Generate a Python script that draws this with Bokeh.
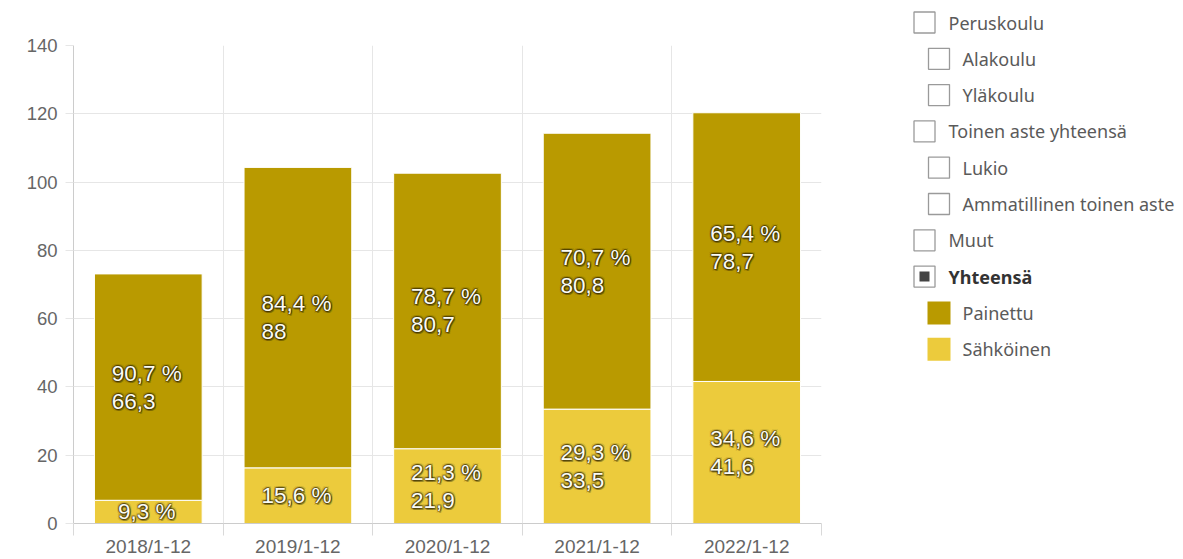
from bokeh.plotting import figure
from bokeh.layouts import row
from bokeh.models import Range1d, FixedTicker, ColumnDataSource
from bokeh.core.properties import value
from bokeh.embed import file_html
from bokeh.resources import INLINE

# ---- data ----
categories = ["2018/1-12", "2019/1-12", "2020/1-12", "2021/1-12", "2022/1-12"]
painettu = [66.3, 88.0, 80.7, 80.8, 78.7]
sahkoinen = [6.8, 16.3, 21.9, 33.5, 41.6]
series_keys = ["sahkoinen", "painettu"]          # stacking order (bottom first)
series_names = ["Sähköinen", "Painettu"]
series_colors = ["#ECCB3C", "#B99A00"]
y_ticks = [0, 20, 40, 60, 80, 100, 120, 140]
legend_labels = ["Peruskoulu", "Alakoulu", "Yläkoulu", "Toinen aste yhteensä", "Lukio",
                 "Ammatillinen toinen aste", "Muut", "Yhteensä", "Painettu", "Sähköinen"]
legend_levels = [0, 1, 1, 0, 1, 1, 0, 0, 1, 1]
legend_checked = ["Yhteensä"]

# ---- layout constants ----
H = 559
W1 = 888
W2 = 1183 - W1
LABEL_FS = 22.5

n = len(categories)
x_centers = [i + 0.5 for i in range(n)]

p = figure(width=W1, height=H, x_range=Range1d(0, n), y_range=Range1d(0, 140),
           output_backend="svg", toolbar_location=None,
           min_border_left=73, min_border_right=67, min_border_top=45, min_border_bottom=34)
p.outline_line_color = None
p.background_fill_color = "white"
p.frame_align = False

src = ColumnDataSource(dict(x=x_centers, painettu=painettu, sahkoinen=sahkoinen))
p.vbar_stack(series_keys, x="x", width=0.72, color=series_colors, line_color="white",
             line_width=1, source=src)

# ---- data labels ----
def fmt(v):
    return f"{v:g}".replace(".", ",")

char_w = {",": 0.278, " ": 0.278, "%": 0.889}
def text_width(s, fs):
    return sum(char_w.get(c, 0.556) for c in s) * fs

lx, ly, lt, lxo, lyo = [], [], [], [], []
series_vals = {"painettu": painettu, "sahkoinen": sahkoinen}
for i in range(n):
    total = painettu[i] + sahkoinen[i]
    bottom = 0.0
    for key in series_keys:
        v = series_vals[key][i]
        pct = v / total * 100
        pct_s = f"{pct:.1f}".replace(".", ",") + " %"
        mid = bottom + v / 2
        w = text_width(pct_s, LABEL_FS)
        if v >= 20:
            lines = [(pct_s, -14), (fmt(v), 14)]
        else:
            lines = [(pct_s, 0)]
        for t, yo in lines:
            lx.append(x_centers[i]); ly.append(mid); lt.append(t)
            lxo.append(-w / 2 - 1.5); lyo.append(yo)
        bottom += v

# soft dark outline (two rings) behind the white labels
rings = [
    ([(-2, -2), (0, -2), (2, -2), (-2, 0), (2, 0), (-2, 2), (0, 2), (2, 2)], 0.10),
    ([(-1, -1), (0, -1), (1, -1), (-1, 0), (1, 0), (-1, 1), (0, 1), (1, 1), (1, 2)], 0.30),
]
for offsets, alpha in rings:
    for dx, dy in offsets:
        p.text(x=lx, y=ly, text=lt, x_offset=[o + dx for o in lxo], y_offset=[o + dy for o in lyo],
               text_font=value("Liberation Sans"), text_font_size=f"{LABEL_FS}px",
               text_color="#2a2200", text_alpha=alpha, text_align="left", text_baseline="middle")
p.text(x=lx, y=ly, text=lt, x_offset=lxo, y_offset=lyo,
       text_font=value("Liberation Sans"), text_font_size=f"{LABEL_FS}px",
       text_color="#fbfbf5", text_align="left", text_baseline="middle")

# ---- axes ----
p.yaxis.ticker = FixedTicker(ticks=y_ticks)
p.yaxis.axis_line_color = "#cccccc"
p.yaxis.major_tick_out = 8
p.yaxis.major_tick_in = 0
p.yaxis.major_tick_line_color = "#e6e6e6"
p.yaxis.minor_tick_line_color = None
p.yaxis.major_label_text_font = "Liberation Sans"
p.yaxis.major_label_text_font_size = "18.5px"
p.yaxis.major_label_text_color = "#666666"
p.yaxis.major_label_standoff = 8

p.xaxis.ticker = FixedTicker(ticks=x_centers, minor_ticks=list(range(n + 1)))
p.xaxis.major_label_overrides = {x_centers[i]: categories[i] for i in range(n)}
p.xaxis.major_tick_out = 0
p.xaxis.major_tick_in = 0
p.xaxis.major_tick_line_color = None
p.xaxis.minor_tick_out = 12
p.xaxis.minor_tick_in = 0
p.xaxis.minor_tick_line_color = "#d9d9d9"
p.xaxis.axis_line_color = "#cccccc"
p.xaxis.major_label_text_font = "Liberation Sans"
p.xaxis.major_label_text_font_size = "19px"
p.xaxis.major_label_text_color = "#666666"
p.xaxis.major_label_standoff = 0

p.xgrid.ticker = FixedTicker(ticks=list(range(n + 1)))
p.xgrid.grid_line_color = "#e6e6e6"
p.ygrid.grid_line_color = "#e6e6e6"

# ---- legend panel (page pixel coordinates) ----
q = figure(width=W2, height=H, x_range=Range1d(W1, W1 + W2), y_range=Range1d(H, 0),
           output_backend="svg", toolbar_location=None, x_axis_type=None, y_axis_type=None,
           min_border=0)
q.outline_line_color = None
q.grid.visible = False
q.frame_align = False

row_y0, row_dy = 22, 36.3
box_x = [924, 938.5]
text_x = [948, 962]
color_of = dict(zip(series_names, series_colors))

cb_x, cb_y, sw_x, sw_y, sw_c = [], [], [], [], []
tx, ty, tt, bx, by, bt = [], [], [], [], [], []
inner_x, inner_y = [], []
for i, (lab, lev) in enumerate(zip(legend_labels, legend_levels)):
    y = row_y0 + row_dy * i
    if lab in color_of:
        sw_x.append(box_x[lev]); sw_y.append(y); sw_c.append(color_of[lab])
    else:
        cb_x.append(box_x[lev]); cb_y.append(y)
        if lab in legend_checked:
            inner_x.append(box_x[lev]); inner_y.append(y)
    if lab in legend_checked:
        bx.append(text_x[lev]); by.append(y); bt.append(lab)
    else:
        tx.append(text_x[lev]); ty.append(y); tt.append(lab)

q.rect(x=cb_x, y=cb_y, width=21, height=21, fill_color="white", line_color="#9a9a9a", line_width=1.3)
q.rect(x=inner_x, y=inner_y, width=10, height=10, fill_color="#444444", line_color=None)
q.rect(x=sw_x, y=sw_y, width=23, height=23, fill_color=sw_c, line_color=None)
q.text(x=tx, y=ty, text=tt, text_font=value("Noto Sans"), text_font_size="18px",
       text_color="#5a5a5a", text_baseline="middle", text_align="left")
q.text(x=bx, y=by, text=bt, text_font=value("Noto Sans"), text_font_size="18px",
       text_font_style="bold", text_color="#333333", text_baseline="middle", text_align="left")

layout = row(p, q)
open("out.html", "w").write(file_html(layout, INLINE))
